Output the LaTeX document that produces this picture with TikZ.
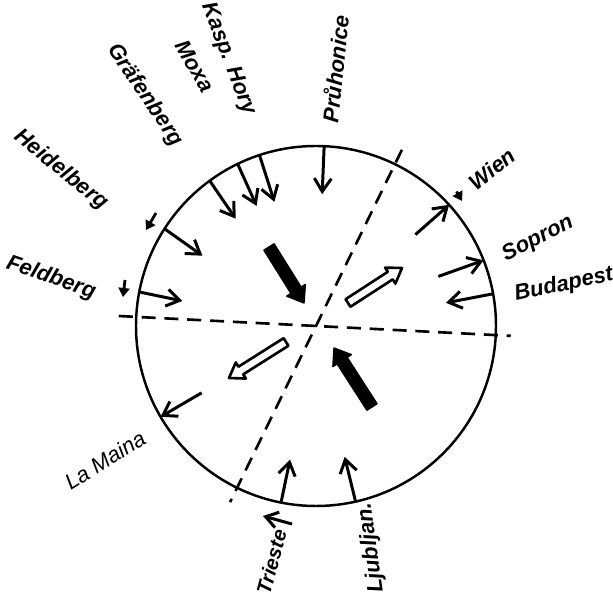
\documentclass[tikz,border=0pt]{standalone}
\usepackage{fontspec}
\setmainfont{Liberation Sans}
\usetikzlibrary{arrows.meta,calc}
\tikzset{
  rim/.style={line width=1.4pt},
  axis/.style={line width=1.5pt, dash pattern=on 8pt off 5pt},
  stn/.style={line width=1.7pt, -{Straight Barb[length=2.6mm, width=3.4mm]}},
  tinyarr/.style={line width=1.6pt, -{Triangle[length=1.8mm, width=2.2mm]}},
  lbl/.style={font=\fontsize{12.5}{12.5}\selectfont\bfseries\itshape, inner sep=0pt},
  lbllight/.style={font=\fontsize{12.5}{12.5}\selectfont\itshape, inner sep=0pt},
  solidblk/.style={fill=black, draw=black, line width=0.8pt, line join=round},
  openblk/.style={fill=white, draw=black, line width=1.5pt, line join=round},
}
% block arrow from (#2t) to (#2h): shaft half width #3, head half width #4, head length #5
\newcommand{\blockarrow}[5][]{%
  \coordinate (#2b) at ($(#2h)!#5!(#2t)$);
  \draw[#1] ($(#2t)!#3!90:(#2h)$) -- ($(#2b)!#3!90:(#2h)$) -- ($(#2b)!#4!90:(#2h)$) -- (#2h)
    -- ($(#2b)!#4!-90:(#2h)$) -- ($(#2b)!#3!-90:(#2h)$) -- ($(#2t)!#3!-90:(#2h)$) -- cycle;}

\begin{document}
\begin{tikzpicture}
\useasboundingbox (0,0) rectangle (12.26,11.98);
\coordinate (C) at (6.32,5.46);
% ===================== circle and the two dashed axes
\draw[rim] (C) circle (3.6);
\coordinate (ax1a) at ($(C)+(177.1:3.95)$);
\coordinate (ax1b) at ($(C)+(-2.9:3.9)$);
\coordinate (ax2a) at ($(C)+(64:3.92)$);
\coordinate (ax2b) at ($(C)+(244:3.92)$);
\draw[axis] (ax1a) -- (ax1b);
\draw[axis] (ax2a) -- (ax2b);
% ===================== station arrows, pointing inward
\foreach \n/\a/\d/\l in {feld/169.1/-11.8/0.88, heid/147.3/-35.4/0.93, graef/126.2/-55.6/0.92,
    moxa/115.8/-65.7/0.92, kasp/108.3/-72.3/0.98, pruh/87.4/-92.4/0.96,
    bud/10.3/190.8/0.96, trie/258.8/78.2/0.88, ljub/282.7/103.7/0.92}{
  \coordinate (\n-o) at ($(C)+(\a:3.6)$);
  \coordinate (\n-i) at ($(\n-o)+(\d:\l)$);
  \draw[stn] (\n-o) -- (\n-i);
}
% station arrows, pointing outward
\foreach \n/\a/\d/\l in {wien/42.3/221.4/0.9, sop/21.4/199.6/0.96, lamaina/210.3/30.3/0.95}{
  \coordinate (\n-o) at ($(C)+(\a:3.6)$);
  \coordinate (\n-i) at ($(\n-o)+(\d:\l)$);
  \draw[stn] (\n-i) -- (\n-o);
}
% small arrows outside the circle
\coordinate (heid-s1) at (3.12,7.72); \coordinate (heid-s2) at (2.92,7.38);
\coordinate (feld-s1) at (2.50,6.38); \coordinate (feld-s2) at (2.46,6.04);
\coordinate (wien-s1) at (9.13,8.15); \coordinate (wien-s2) at (9.24,7.96);
\coordinate (trie-s1) at (5.84,1.50); \coordinate (trie-s2) at (5.26,1.66);
\draw[tinyarr] (heid-s1) -- (heid-s2);
\draw[tinyarr] (feld-s1) -- (feld-s2);
\draw[tinyarr] (wien-s1) -- (wien-s2);
\draw[line width=1.7pt, -{Straight Barb[length=2.4mm, width=3.2mm]}] (trie-s1) -- (trie-s2);
% ===================== the four block arrows
\coordinate (nwt) at (5.38,7.04); \coordinate (nwh) at (6.08,5.92);
\coordinate (set) at (7.44,3.84); \coordinate (seh) at (6.68,5.02);
\coordinate (net) at (6.96,5.92); \coordinate (neh) at (8.04,6.62);
\coordinate (swt) at (5.72,5.14); \coordinate (swh) at (4.58,4.42);
\blockarrow[solidblk]{nw}{0.12cm}{0.22cm}{0.3cm}
\blockarrow[solidblk]{se}{0.12cm}{0.22cm}{0.3cm}
\blockarrow[openblk]{ne}{0.09cm}{0.19cm}{0.28cm}
\blockarrow[openblk]{sw}{0.09cm}{0.19cm}{0.28cm}
% ===================== station names
\node[lbl, rotate=-69] (kasp-l) at (4.56,10.80) {Kasp. Hory};
\node[lbl, rotate=-61] (moxa-l) at (3.90,10.66) {Moxa};
\node[lbl, rotate=-56] (graef-l) at (2.90,10.08) {Gräfenberg};
\node[lbl, rotate=-39] (heid-l) at (1.22,8.58) {Heidelberg};
\node[lbl, rotate=-19] (feld-l) at (1.02,6.42) {Feldberg};
\node[lbl, rotate=84] (pruh-l) at (6.70,10.60) {Průhonice};
\node[lbl, rotate=38] (wien-l) at (9.84,8.60) {Wien};
\node[lbl, rotate=27] (sop-l) at (10.76,7.20) {Sopron};
\node[lbl, rotate=12] (bud-l) at (11.28,6.28) {Budapest};
\node[lbllight, rotate=32] (lamaina-l) at (2.10,2.78) {La Maina};
\node[lbl, rotate=75, font=\fontsize{11.5}{11.5}\selectfont\bfseries\itshape] (trie-l) at (5.43,0.74) {Trieste};
\node[lbl, rotate=98] (ljub-l) at (7.42,1.02) {Ljubljan.};
\end{tikzpicture}
\end{document}
